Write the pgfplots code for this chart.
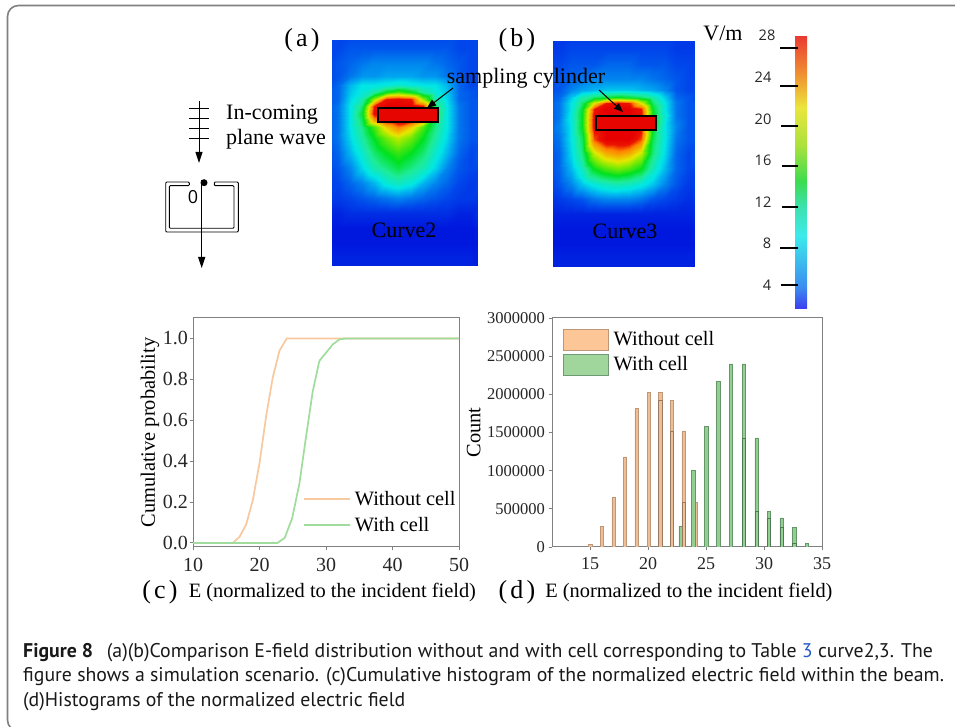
\documentclass[border=0pt]{standalone}
\usepackage{fontspec}
\setmainfont{Liberation Serif}
\newfontfamily\capfont{PT Sans}
\newfontfamily\numfont{Open Sans}
\usepackage{pgfplots}
\pgfplotsset{compat=1.18}
\usetikzlibrary{arrows.meta}
\definecolor{orl}{RGB}{248,200,158}
\definecolor{grl}{RGB}{160,220,155}
\definecolor{orb}{RGB}{240,190,148}
\definecolor{orbe}{RGB}{190,150,120}
\definecolor{grb}{RGB}{146,208,146}
\definecolor{grbe}{RGB}{100,150,105}
\definecolor{legor}{RGB}{252,198,150}
\definecolor{legore}{RGB}{190,150,120}
\definecolor{leggr}{RGB}{160,214,155}
\definecolor{leggre}{RGB}{110,155,115}
\definecolor{axg}{RGB}{128,128,128}
\definecolor{tbl}{RGB}{40,90,200}
\definecolor{heatred}{RGB}{230,5,0}
\definecolor{cb0}{RGB}{60,60,240}
\definecolor{cb1}{RGB}{60,140,240}
\definecolor{cb2}{RGB}{60,235,235}
\definecolor{cb3}{RGB}{60,225,170}
\definecolor{cb4}{RGB}{60,220,80}
\definecolor{cb5}{RGB}{170,225,60}
\definecolor{cb6}{RGB}{235,230,60}
\definecolor{cb7}{RGB}{240,160,50}
\definecolor{cb8}{RGB}{235,60,50}
\pgfdeclareverticalshading{cbar}{100bp}{
 color(0bp)=(cb0);color(25bp)=(cb0);color(29bp)=(cb1);color(38.5bp)=(cb2);color(44bp)=(cb3);color(48.5bp)=(cb4);color(55bp)=(cb5);color(62bp)=(cb6);color(67bp)=(cb7);color(75bp)=(cb8);color(100bp)=(cb8)}
% row positions (pixels from the top of the field images)
\def\rowa{\ifcase\numexpr(\coordindex-6)/13\relax 0\or15\or30\or40\or48\or55\or62\or69\or76\or83\or90\or105\or120\or135\or150\or165\or180\or195\or210\or225\fi}
\def\rowb{\ifcase\numexpr(\coordindex-6)/13\relax 0\or15\or30\or45\or52\or58\or64\or70\or78\or90\or105\or120\or135\or150\or165\or180\or195\or210\or225\fi}
\pgfplotsset{
 heat/.style={hide axis,scale only axis,y dir=reverse,enlargelimits=false,
  colormap={field}{rgb255(0)=(0,0,215) rgb255(3)=(0,70,235) rgb255(6)=(0,165,240) rgb255(8)=(0,230,230) rgb255(11)=(30,235,150) rgb255(14)=(0,225,30) rgb255(18)=(150,235,0) rgb255(20)=(230,230,0) rgb255(24)=(255,130,0) rgb255(26)=(235,20,0) rgb255(28)=(230,0,0)},
  point meta min=0,point meta max=28},
 panel/.style={scale only axis,axis line style={axg,line width=1pt},
  tick style={axg,line width=0.9pt},tick align=outside,
  xtick pos=bottom,ytick pos=left,major tick length=3.5pt,
  /pgf/number format/assume math mode=true,
  every tick label/.append style={font=\fontsize{20}{22}\selectfont,text=black!85},
  xticklabel style={yshift=-4pt},
  legend cell align=left,
  legend style={draw=none,fill=none,font=\fontsize{20.4}{24}\selectfont}},
}
\begin{document}
\begin{tikzpicture}
\useasboundingbox (0,0) rectangle (955pt,727pt);
\begin{scope}[x=1pt,y=-1pt,shift={(0pt,727pt)}]
\begin{scope}
\clip (0,0) rectangle (955,727);
\fill[white] (0,0) rectangle (955,727);
\draw[axg,line width=1.6pt,rounded corners=11pt] (7.5,5.5) rectangle (990,731);
\end{scope}
\end{scope}

% (a) field
\begin{axis}[heat,at={(332pt,461pt)},anchor=south west,width=145pt,height=225pt,xmin=0,xmax=144,ymin=0,ymax=225]
\addplot[matrix plot,mesh/cols=13,shader=interp,point meta=explicit]
 table[row sep=\\,x expr={mod(\coordindex,13)*12},y expr={\rowa},meta=z]{
z\\
3\\3\\3\\3\\3\\3\\3\\3\\3\\3\\3\\3\\3\\
3\\3\\3.5\\3.5\\3.5\\3.5\\3.5\\3.5\\3.5\\3.5\\3.5\\3\\3\\
3\\3.5\\4\\4.5\\5\\5\\5\\5\\5\\4.5\\4\\3.5\\3\\
3\\3.5\\4.5\\5.5\\5.5\\6\\6\\6\\5.5\\5.5\\4.5\\3.5\\3\\
3\\4\\6.5\\8\\8\\8.5\\9\\8.5\\8\\8\\6.5\\4\\3\\
3.5\\4\\7\\8.5\\10.5\\14\\16\\14\\10.5\\8.5\\7\\4\\3.5\\
3.5\\4\\7.5\\10\\18\\26\\27\\26\\18\\10\\7.5\\4\\3.5\\
3.5\\4.5\\8\\12\\26\\28\\28\\28\\26\\12\\8\\4.5\\3.5\\
3.5\\4.5\\8\\13.5\\27\\28\\28\\28\\27\\13.5\\8\\4.5\\3.5\\
3.5\\4.5\\8\\12.5\\23\\27\\28\\27\\23\\12.5\\8\\4.5\\3.5\\
3.5\\4.5\\8\\11.5\\16\\21\\24\\21\\16\\11.5\\8\\4.5\\3.5\\
3.5\\4.5\\7.5\\10.5\\14\\17\\19\\17\\14\\10.5\\7.5\\4.5\\3.5\\
3\\4\\6.5\\9\\12\\14\\15.5\\14\\12\\9\\6.5\\4\\3\\
3\\3.5\\5\\7.5\\10\\11.5\\13\\11.5\\10\\7.5\\5\\3.5\\3\\
2.5\\3\\4\\5\\6.5\\8.5\\9.5\\8.5\\6.5\\5\\4\\3\\2.5\\
2.5\\2.5\\3\\3.5\\4\\4.5\\5\\4.5\\4\\3.5\\3\\2.5\\2.5\\
1.5\\1.5\\2\\2\\2\\2\\2\\2\\2\\2\\2\\1.5\\1.5\\
1\\1\\1\\1\\1\\1\\1\\1\\1\\1\\1\\1\\1\\
1\\1\\1\\1\\1\\1\\1\\1\\1\\1\\1\\1\\1\\
1.5\\1.5\\1.5\\1.5\\1.5\\1.5\\1.5\\1.5\\1.5\\1.5\\1.5\\1.5\\1.5\\
};
\end{axis}
% (b) field
\begin{axis}[heat,at={(553pt,460pt)},anchor=south west,width=141pt,height=225pt,xmin=0,xmax=144,ymin=0,ymax=225]
\addplot[matrix plot,mesh/cols=13,shader=interp,point meta=explicit]
 table[row sep=\\,x expr={mod(\coordindex,13)*12},y expr={\rowb},meta=z]{
z\\
2.5\\2.5\\2.5\\2.5\\2.5\\2.5\\2.5\\2.5\\2.5\\2.5\\2.5\\2.5\\2.5\\
2.5\\2.5\\3\\3\\3\\3\\3\\3\\3\\3\\3\\2.5\\2.5\\
3\\3\\3.5\\3.5\\3.5\\4\\4\\4\\3.5\\3.5\\3.5\\3\\3\\
3\\3.5\\4\\4.5\\5\\5\\5\\5\\5\\4.5\\4\\3.5\\3\\
3\\3.5\\5\\6\\6.5\\7\\7\\7\\6.5\\6\\5\\3.5\\3\\
3.5\\4\\7\\10\\12\\13\\14\\13\\12\\10\\7\\4\\3.5\\
3.5\\4.5\\8\\12\\20\\26\\27\\26\\20\\12\\8\\4.5\\3.5\\
3.5\\4.5\\8\\13.5\\26\\28\\28\\28\\26\\13.5\\8\\4.5\\3.5\\
3.5\\4.5\\8.5\\14\\27\\28\\28\\28\\27\\14\\8.5\\4.5\\3.5\\
3.5\\5\\8\\14\\27\\28\\28\\28\\27\\14\\8\\5\\3.5\\
3.5\\4.5\\8\\12.5\\25\\28\\28\\28\\25\\12.5\\8\\4.5\\3.5\\
3\\4\\7.5\\11.5\\19\\22\\23\\22\\19\\11.5\\7.5\\4\\3\\
3\\4\\6.5\\9.5\\14\\16\\17\\16\\14\\9.5\\6.5\\4\\3\\
2.5\\3.5\\5\\7\\8.5\\9.5\\10\\9.5\\8.5\\7\\5\\3.5\\2.5\\
2\\2.5\\3\\3.5\\4.5\\5\\5\\5\\4.5\\3.5\\3\\2.5\\2\\
1.5\\1.5\\1.5\\1.5\\1.5\\1.5\\1.5\\1.5\\1.5\\1.5\\1.5\\1.5\\1.5\\
1\\1\\1\\1\\1\\1\\1\\1\\1\\1\\1\\1\\1\\
1\\1\\1\\1\\1\\1\\1\\1\\1\\1\\1\\1\\1\\
1.5\\1.5\\1.5\\1.5\\1.5\\1.5\\1.5\\1.5\\1.5\\1.5\\1.5\\1.5\\1.5\\
};
\end{axis}

% (c)
\begin{axis}[panel,at={(193pt,180pt)},anchor=south west,width=266pt,height=229pt,
 xmin=10,xmax=50,ymin=-0.02,ymax=1.1,xtick={10,20,30,40,50},ytick={0,0.2,0.4,0.6,0.8,1},
 yticklabel style={xshift=2pt,/pgf/number format/fixed,/pgf/number format/fixed zerofill,/pgf/number format/precision=1},
 xlabel={E (normalized to the incident field)},ylabel={Cumulative probability},
 xlabel style={font=\fontsize{20.4}{22}\selectfont,at={(axis description cs:0.524,-0.2)},anchor=center},
 ylabel style={font=\fontsize{20.4}{22}\selectfont,at={(axis description cs:-0.162,0.5)},anchor=center},
 legend style={at={(axis description cs:0.704,0.153)},anchor=center,row sep=6pt,column sep=2pt}]
\addplot[orl,line width=1.7pt,legend image code/.code={\draw[orl,line width=1.8pt] (0pt,0pt) -- (46pt,0pt);}] coordinates {(10,0)(16,0)(17,0.03)(18,0.09)(19,0.21)(20,0.39)(21,0.62)(22,0.81)(23,0.94)(24.1,1)(50,1)};
\addplot[grl,line width=1.7pt,legend image code/.code={\draw[grl,line width=1.8pt] (0pt,0pt) -- (46pt,0pt);}] coordinates {(10,0)(22.7,0)(23.8,0.025)(24.9,0.12)(26,0.29)(27,0.52)(28,0.74)(29,0.89)(30,0.93)(31,0.97)(32,0.995)(33,1)(50,1)};
\legend{Without cell,With cell}
\end{axis}

% (d)
\begin{axis}[panel,at={(552pt,180pt)},anchor=south west,width=270pt,height=229pt,
 xmin=11.7,xmax=35,ymin=0,ymax=3000000,xtick={15,20,25,30,35},ytick={0,500000,1000000,1500000,2000000,2500000,3000000},
 scaled y ticks=false,yticklabel style={/pgf/number format/fixed,/pgf/number format/1000 sep={},font=\fontsize{16.5}{20}\selectfont},
 xticklabel style={font=\fontsize{18}{20}\selectfont},
 xlabel={E (normalized to the incident field)},ylabel={Count},
 xlabel style={font=\fontsize{20.4}{22}\selectfont,at={(axis description cs:0.507,-0.2)},anchor=center},
 ylabel style={font=\fontsize{20.4}{22}\selectfont,at={(axis description cs:-0.29,0.5)},anchor=center},
 legend style={at={(axis description cs:0.324,0.851)},anchor=center,row sep=3pt,column sep=3pt},
 ybar,bar width=3.3pt]
\addplot[fill=orb,draw=orbe,line width=0.5pt,bar shift=0pt,legend image code/.code={\draw[fill=legor,draw=legore,line width=0.9pt] (0pt,-10.5pt) rectangle (45pt,10.5pt);}] coordinates {(15,35000)(16,270000)(17,650000)(18,1180000)(19,1820000)(20.05,2030000)(21.05,2030000)(22.05,1920000)(23.05,1520000)(24.05,580000)};
\addplot[fill=grb,draw=grbe,line width=0.5pt,bar shift=0pt,legend image code/.code={\draw[fill=leggr,draw=leggre,line width=0.9pt] (0pt,-10.5pt) rectangle (45pt,10.5pt);}] coordinates {(21.7,5000)(22.8,270000)(23.9,1000000)(25,1580000)(26.05,2170000)(27.15,2400000)(28.25,2400000)(29.35,1430000)(30.4,470000)(31.5,380000)(32.6,260000)(33.7,50000)};
\addplot[fill=none,draw=orbe!80!black,line width=0.5pt,bar shift=0pt,forget plot] coordinates {(21.05,1920000)(22.05,1520000)(23.05,580000)};
\addplot[fill=none,draw=grbe!80!black,line width=0.5pt,bar shift=0pt,forget plot] coordinates {(28.25,1430000)(29.35,470000)(30.4,380000)(31.5,260000)(32.6,50000)};
\legend{Without cell,With cell}
\end{axis}

\begin{scope}[x=1pt,y=-1pt,shift={(0pt,727pt)}]
% labels
\node[font=\fontsize{26}{28}\selectfont] at (302,40) {(\hspace{0.12em}a\hspace{0.12em})};
\node[font=\fontsize{26}{28}\selectfont] at (517,40) {(\hspace{0.12em}b\hspace{0.12em})};
\node[font=\fontsize{26}{28}\selectfont] at (160,592) {(\hspace{0.12em}c\hspace{0.12em})};
\node[font=\fontsize{26}{28}\selectfont] at (517,592) {(\hspace{0.12em}d\hspace{0.12em})};
\node[font=\fontsize{22}{26}\selectfont] at (723,33) {V/m};
% field overlays
\draw[black,fill=heatred,line width=2.4pt] (378,108) rectangle (438,122);
\draw[black,fill=heatred,line width=2.4pt] (596,116) rectangle (656,130);
\draw[line width=1pt,-{Triangle[length=9pt,width=7pt]}] (453,88) -- (427,108);
\draw[line width=1pt,-{Triangle[length=9pt,width=7pt]}] (599,90) -- (623,112);
\node[font=\fontsize{22}{26}\selectfont] at (526,78) {sampling cylinder};
\node[font=\fontsize{22}{26}\selectfont] at (404,230) {Curve2};
\node[font=\fontsize{22}{26}\selectfont] at (625,231) {Curve3};
% schematic
\draw[line width=1pt,-{Triangle[length=11pt,width=7pt]}] (199,101) -- (199,163);
\foreach \yy in {109,119,129,139} \draw[line width=1pt] (189,\yy) -- (209,\yy);
\node[font=\fontsize{22}{26}\selectfont,anchor=base west,inner sep=0pt] at (226,120) {In-coming};
\node[font=\fontsize{22}{26}\selectfont,anchor=base west,inner sep=0pt] at (226,145) {plane wave};
\draw[line width=0.9pt,rounded corners=1pt] (189.3,182)--(165.7,182)--(165.7,232)--(238.3,232)--(238.3,182)--(214.3,182)--(214.3,185.7)--(234,185.7)--(234,228.3)--(169.3,228.3)--(169.3,185.7)--(189.3,185.7)--cycle;
\draw[line width=1pt,-{Triangle[length=11pt,width=7pt]}] (201.7,180) -- (201.7,268);
\fill (204,182.7) circle (3.5);
\node[font=\numfont\fontsize{18}{20}\selectfont] at (193,197) {0};
% colour bar
\shade[shading=cbar] (795,37) rectangle (807,309);
\foreach \xa/\yy in {780/48,780/86,781/126,782/166,782/207,780/248,781/285} \draw[line width=1.3pt] (\xa,\yy) -- (798,\yy);
\foreach \xa/\yy/\t in {767/35/28,763/77/24,763/119/20,763/160/16,763/202/12,767/243/8,767/285/4}
 \node[font=\numfont\fontsize{14.6}{16}\selectfont,text=black!85] at (\xa,\yy) {\t};
% caption
\begin{scope}[every node/.style={anchor=base west,inner sep=0pt,font=\capfont\fontsize{19.8}{22}\selectfont,text=black!90}]
\node at (23,658) {\textbf{Figure 8}\hspace{0.7em}(a)(b)Comparison E-field distribution without and with cell corresponding to Table \textcolor{tbl}{3} curve2,3. The};
\node at (23,682) {figure shows a simulation scenario. (c)Cumulative histogram of the normalized electric field within the beam.};
\node at (23,707) {(d)Histograms of the normalized electric field};
\end{scope}
\end{scope}
\end{tikzpicture}
\end{document}
